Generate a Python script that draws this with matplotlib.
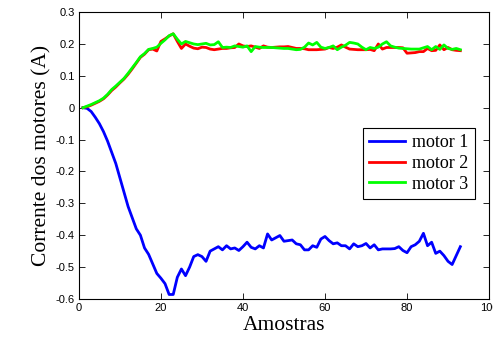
import matplotlib
matplotlib.use('Agg')
from matplotlib import pyplot as plt
import numpy as np

amostras = list(range(1, 94))

motor1 = [0.0, -0.002, -0.012, -0.03, -0.05, -0.075, -0.105, -0.14, -0.175, -0.22,
          -0.265, -0.31, -0.345, -0.38, -0.40, -0.44, -0.46, -0.49, -0.52, -0.535,
          -0.552, -0.586, -0.586, -0.532, -0.506, -0.527, -0.50, -0.467, -0.461, -0.467,
          -0.482, -0.45, -0.443, -0.436, -0.446, -0.433, -0.443, -0.44, -0.448, -0.436,
          -0.422, -0.438, -0.443, -0.433, -0.44, -0.396, -0.415, -0.408, -0.401, -0.419,
          -0.417, -0.415, -0.427, -0.43, -0.446, -0.446, -0.433, -0.438, -0.412, -0.404,
          -0.417, -0.427, -0.424, -0.433, -0.433, -0.443, -0.427, -0.436, -0.433, -0.426,
          -0.44, -0.43, -0.446, -0.443, -0.443, -0.443, -0.442, -0.436, -0.448, -0.455,
          -0.436, -0.43, -0.419, -0.394, -0.433, -0.422, -0.457, -0.45, -0.464, -0.482,
          -0.492, -0.464, -0.436]

motor2 = [0.0, 0.003, 0.008, 0.014, 0.02, 0.028, 0.04, 0.054, 0.065, 0.078,
          0.09, 0.105, 0.122, 0.14, 0.158, 0.168, 0.182, 0.184, 0.178, 0.208,
          0.216, 0.225, 0.232, 0.208, 0.186, 0.2, 0.193, 0.187, 0.185, 0.19,
          0.189, 0.184, 0.182, 0.184, 0.186, 0.186, 0.188, 0.189, 0.2, 0.194,
          0.192, 0.194, 0.19, 0.186, 0.194, 0.19, 0.189, 0.19, 0.191, 0.191,
          0.192, 0.189, 0.186, 0.186, 0.185, 0.182, 0.182, 0.182, 0.183, 0.184,
          0.189, 0.186, 0.19, 0.197, 0.19, 0.184, 0.183, 0.182, 0.182, 0.182,
          0.183, 0.179, 0.2, 0.184, 0.189, 0.189, 0.189, 0.189, 0.188, 0.171,
          0.172, 0.173, 0.176, 0.176, 0.186, 0.179, 0.18, 0.197, 0.182, 0.189,
          0.182, 0.18, 0.179]

motor3 = [0.0, 0.005, 0.01, 0.016, 0.022, 0.03, 0.042, 0.057, 0.068, 0.08,
          0.092, 0.108, 0.125, 0.142, 0.16, 0.17, 0.183, 0.186, 0.19, 0.202,
          0.213, 0.226, 0.232, 0.215, 0.2, 0.208, 0.204, 0.2, 0.198, 0.2,
          0.202, 0.197, 0.198, 0.207, 0.189, 0.19, 0.189, 0.194, 0.192, 0.19,
          0.194, 0.176, 0.192, 0.19, 0.189, 0.189, 0.189, 0.188, 0.187, 0.186,
          0.186, 0.184, 0.182, 0.183, 0.19, 0.203, 0.197, 0.205, 0.19, 0.186,
          0.189, 0.194, 0.182, 0.19, 0.196, 0.205, 0.203, 0.2, 0.19, 0.182,
          0.189, 0.186, 0.19, 0.2, 0.207, 0.194, 0.19, 0.187, 0.186, 0.185,
          0.184, 0.184, 0.184, 0.188, 0.192, 0.182, 0.192, 0.183, 0.197, 0.186,
          0.183, 0.186, 0.182]

xticks = [0, 20, 40, 60, 80, 100]
yticks = [-0.6, -0.5, -0.4, -0.3, -0.2, -0.1, 0, 0.1, 0.2, 0.3]

fig = plt.figure(figsize=(4.93, 3.46), dpi=100)
ax = fig.add_axes([0.160, 0.136, 0.832, 0.829])

ax.plot(amostras, motor1, color=(0, 0, 1), lw=2, label='motor 1')
ax.plot(amostras, motor2, color=(1, 0, 0), lw=2, label='motor 2')
ax.plot(amostras, motor3, color=(0, 1, 0), lw=2, label='motor 3')

ax.set_xlim(0, 100)
ax.set_ylim(-0.6, 0.3)
ax.set_xticks(xticks)
ax.set_yticks(yticks)
# the "100" label is clipped by the right edge, as in the original figure
ax.set_xticklabels([str(t) for t in xticks], family='Liberation Sans', fontsize=8)
ax.set_yticklabels(['%g' % t for t in yticks], family='Liberation Sans', fontsize=8)
ax.tick_params(direction='in', top=True, right=True, length=4, width=0.6, pad=3)
for s in ax.spines.values():
    s.set_linewidth(0.8)

ax.set_xlabel('Amostras', family='Liberation Serif', fontsize=15.5, labelpad=2)
ax.set_ylabel('Corrente dos motores (A)', family='Liberation Serif', fontsize=15.5, labelpad=3)

leg = ax.legend(loc='upper right', bbox_to_anchor=(0.966, 0.596), fancybox=False,
                framealpha=1, edgecolor='black', prop={'family': 'Liberation Serif', 'size': 13},
                handlelength=2.0, borderpad=0.35, labelspacing=0.2, handletextpad=0.4,
                borderaxespad=0)
leg.get_frame().set_linewidth(0.8)

fig.savefig('out.png', dpi=100)
